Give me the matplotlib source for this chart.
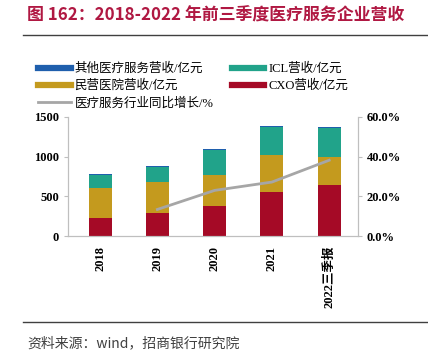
import matplotlib.pyplot as plt
import numpy as np

plt.rcParams['font.family'] = ['Liberation Serif', 'Noto Sans CJK SC']

# 数据
years = ["2018", "2019", "2020", "2021", "2022三季报"]
cxo = [222, 293, 381, 557, 641]
hospital = [381, 386, 394, 465, 352]
icl = [172, 192, 306, 352, 364]
other = [8, 17, 12, 17, 17]
growth_years = ["2019", "2020", "2021", "2022三季报"]
growth = [13.4, 23.0, 27.2, 38.2]

c_other = "#1F5FAD"
c_icl = "#21A38A"
c_hosp = "#C49A1E"
c_cxo = "#A50A26"
c_line = "#A6A6A6"
c_title = "#B01842"

fig = plt.figure(figsize=(4.28, 3.6), dpi=100)
ax = fig.add_axes([0.159, 0.3444, 0.677, 0.3306])
ax2 = ax.twinx()

x = np.arange(len(years))
w = 0.4
b1 = np.array(cxo)
b2 = b1 + np.array(hospital)
b3 = b2 + np.array(icl)
ax.bar(x, cxo, w, color=c_cxo, zorder=2)
ax.bar(x, hospital, w, bottom=b1, color=c_hosp, zorder=2)
ax.bar(x, icl, w, bottom=b2, color=c_icl, zorder=2)
ax.bar(x, other, w, bottom=b3, color=c_other, zorder=2)

gx = [years.index(g) for g in growth_years]
ax2.plot(gx, growth, color=c_line, lw=2)

ax.set_xlim(-0.56, 4.5)
ax.set_ylim(0, 1500)
ax.set_yticks([0, 500, 1000, 1500])
ax2.set_ylim(0, 60)
ax2.set_yticks([0, 20, 40, 60])
ax2.set_yticklabels([f"{v:.1f}%" for v in [0, 20, 40, 60]])
ax.set_xticks(x)
ax.set_xticklabels(years, rotation=90)

for a in (ax, ax2):
    a.spines["top"].set_visible(False)
    for s in ("left", "right", "bottom"):
        a.spines[s].set_color("#BFBFBF")
    a.tick_params(colors="#BFBFBF", labelcolor="black", labelsize=9, length=3)
    for lab in a.get_yticklabels() + a.get_xticklabels():
        lab.set_fontweight("bold")
ax.tick_params(axis="x", length=0, pad=7)

# 图例
handles = [
    plt.Line2D([], [], color=c_other, lw=4.5),
    plt.Line2D([], [], color=c_hosp, lw=4.5),
    plt.Line2D([], [], color=c_line, lw=2),
    plt.Line2D([], [], color=c_icl, lw=4.5),
    plt.Line2D([], [], color=c_cxo, lw=4.5),
]
labels = ["其他医疗服务营收/亿元", "民营医院营收/亿元", "医疗服务行业同比增长/%", "ICL营收/亿元", "CXO营收/亿元"]
fig.legend(handles, labels, ncol=2, loc="upper left", bbox_to_anchor=(0.089, 0.826),
           frameon=False, handlelength=2.6, handletextpad=0.3, borderpad=0, borderaxespad=0,
           columnspacing=1.5, labelspacing=0.38, prop={"weight": "medium", "size": 9})

# 标题和来源
fig.text(0.063, 0.958, "图 162：2018-2022 年前三季度医疗服务企业营收", color=c_title,
         fontsize=12.2, fontweight="bold", family=["Noto Sans CJK SC"], va="center")
fig.add_artist(plt.Line2D([0.054, 1.0], [0.902, 0.902], color="#404040", lw=1))
fig.add_artist(plt.Line2D([0.054, 1.0], [0.106, 0.106], color="#404040", lw=1))
fig.text(0.063, 0.047, "资料来源：wind，招商银行研究院", color="#404040",
         fontsize=10, family=["Noto Sans CJK SC"], va="center")

plt.savefig("out.png", dpi=100)
